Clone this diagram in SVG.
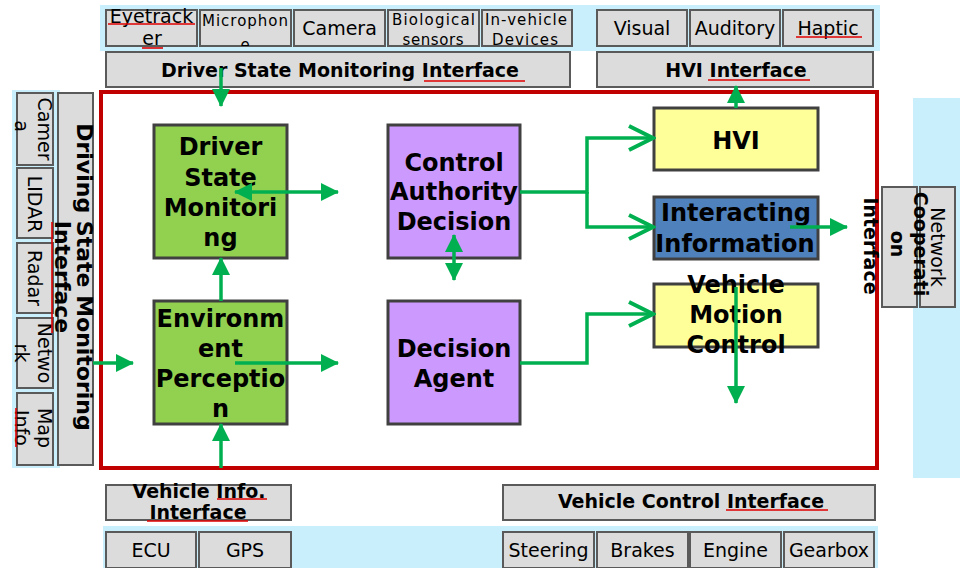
<svg xmlns="http://www.w3.org/2000/svg" width="962" height="568" viewBox="0 0 962 568">
<defs>
<style>
.bg{fill:#c9eefc}
.gbox{fill:#dcdcdc;stroke:#5a5a5a;stroke-width:2}
.t{font-family:"DejaVu Sans",sans-serif;fill:#000;text-anchor:middle}
.s19{font-size:19px}
.s15{font-size:15px}
.b{font-weight:bold}
.n24{font-size:24px;font-weight:bold}
.node{stroke:#404040;stroke-width:3}
.conn{stroke:#00b050;stroke-width:3.5;fill:none}
.sq{stroke:#e00000;stroke-width:1.6;fill:none}
</style>
<marker id="fa" markerUnits="userSpaceOnUse" viewBox="0 0 18 18" refX="17" refY="9" markerWidth="18" markerHeight="18" orient="auto-start-reverse"><path d="M0,0 L18,9 L0,18 Z" fill="#00b050"/></marker>
<marker id="oa" markerUnits="userSpaceOnUse" viewBox="-3 -3 30 32" refX="24" refY="13" markerWidth="30" markerHeight="32" orient="auto"><path d="M0,1 L24,13 L0,25" fill="none" stroke="#00b050" stroke-width="4"/></marker>
<clipPath id="clipMic"><rect x="200" y="10" width="91" height="36"/></clipPath>
<clipPath id="clipBio"><rect x="388" y="10" width="182" height="37"/></clipPath>
</defs>
<rect width="962" height="568" fill="#fff"/>

<!-- background bands -->
<rect class="bg" x="100" y="5" width="780" height="46"/>
<rect class="bg" x="12" y="90" width="48" height="378"/>
<rect class="bg" x="913" y="98" width="47" height="380"/>
<rect class="bg" x="103" y="526" width="775" height="42"/>

<!-- main frame -->
<rect x="101" y="92" width="776" height="376" fill="none" stroke="#c00000" stroke-width="4"/>

<!-- top sensor boxes -->
<g id="eyetracker"><rect class="gbox" x="106" y="10" width="91" height="36"/>
<text class="t s19" x="151.5" y="23">Eyetrack</text><text class="t s19" x="152" y="45">er</text></g>
<g id="microphone"><rect class="gbox" x="200" y="10" width="91" height="36"/>
<g clip-path="url(#clipMic)"><text class="t s15" x="245" y="26" textLength="86" lengthAdjust="spacing">Microphon</text><text class="t s15" x="245" y="50">e</text></g></g>
<g id="camera"><rect class="gbox" x="294" y="10" width="91" height="36"/>
<text class="t s19" x="339.5" y="35">Camera</text></g>
<g id="biological"><rect class="gbox" x="388" y="10" width="91" height="36"/>
<g clip-path="url(#clipBio)"><text class="t s15" x="433.5" y="25" textLength="83" lengthAdjust="spacing">Biological</text><text class="t s15" x="433" y="45" textLength="61" lengthAdjust="spacing">sensors</text></g></g>
<g id="invehicle"><rect class="gbox" x="482" y="10" width="90" height="36"/>
<g clip-path="url(#clipBio)"><text class="t s15" x="526" y="25" textLength="82" lengthAdjust="spacing">In-vehicle</text><text class="t s15" x="525" y="45" textLength="66" lengthAdjust="spacing">Devices</text></g></g>

<g id="visual"><rect class="gbox" x="597" y="10" width="90" height="36"/><text class="t s19" x="642" y="35">Visual</text></g>
<g id="auditory"><rect class="gbox" x="690" y="10" width="90" height="36"/><text class="t s19" x="735" y="35">Auditory</text></g>
<g id="haptic"><rect class="gbox" x="783" y="10" width="90" height="36"/><text class="t s19" x="828" y="35">Haptic</text></g>

<!-- interface boxes -->
<g id="dsm-interface"><rect class="gbox" x="106" y="52" width="464" height="35"/>
<text class="t s19 b" x="340" y="77">Driver State Monitoring Interface</text></g>
<g id="hvi-interface"><rect class="gbox" x="597" y="52" width="276" height="35"/>
<text class="t s19 b" x="736" y="77">HVI Interface</text></g>

<!-- left sensor boxes -->
<g id="l-camera"><rect class="gbox" x="17" y="93" width="36" height="72"/>
<text class="t s19" transform="translate(38,129) rotate(90)">Camer</text><text class="t s19" transform="translate(15,126) rotate(90)">a</text></g>
<g id="l-lidar"><rect class="gbox" x="17" y="168" width="36" height="70"/>
<text class="t s19" transform="translate(28,204) rotate(90)">LIDAR</text></g>
<g id="l-radar"><rect class="gbox" x="17" y="243" width="36" height="70"/>
<text class="t s19" transform="translate(28,278) rotate(90)">Radar</text></g>
<g id="l-network"><rect class="gbox" x="17" y="318" width="36" height="70"/>
<text class="t s19" transform="translate(38,353) rotate(90)">Netwo</text><text class="t s19" transform="translate(15,353) rotate(90)">rk</text></g>
<g id="l-map"><rect class="gbox" x="17" y="393" width="36" height="72"/>
<text class="t s19" transform="translate(38,428) rotate(90)">Map</text><text class="t s19" transform="translate(15,428) rotate(90)">Info</text></g>
<g id="driving-state-interface"><rect class="gbox" x="58" y="93" width="35" height="372"/>
<text class="t s19 b" style="font-size:22px" transform="translate(77,277) rotate(90)">Driving State Monitoring</text>
<text class="t s19 b" style="font-size:22px" transform="translate(55,277) rotate(90)">Interface</text></g>

<!-- right boxes -->
<g id="network"><rect class="gbox" x="920" y="187" width="35" height="120"/>
<text class="t s19" transform="translate(931,247) rotate(90)">Network</text></g>
<g id="cooperation"><rect class="gbox" x="882" y="187" width="35" height="120"/>
<text class="t s19 b" transform="translate(914,244) rotate(90)">Cooperati</text>
<text class="t s19 b" transform="translate(891,244) rotate(90)">on</text>
<text class="t s19 b" transform="translate(864,246) rotate(90)">Interface</text></g>

<!-- bottom -->
<g id="vehicle-info-interface"><rect class="gbox" x="106" y="485" width="185" height="35"/>
<text class="t s19 b" x="199" y="498">Vehicle Info.</text><text class="t s19 b" x="198" y="519">Interface</text></g>
<g id="vehicle-control-interface"><rect class="gbox" x="503" y="485" width="372" height="35"/>
<text class="t s19 b" x="691" y="508">Vehicle Control Interface</text></g>
<g id="ecu"><rect class="gbox" x="106" y="532" width="90" height="36"/><text class="t s19" x="151" y="557">ECU</text></g>
<g id="gps"><rect class="gbox" x="199" y="532" width="92" height="36"/><text class="t s19" x="245" y="557">GPS</text></g>
<g id="steering"><rect class="gbox" x="503" y="532" width="91" height="36"/><text class="t s19" x="548.5" y="557">Steering</text></g>
<g id="brakes"><rect class="gbox" x="597" y="532" width="91" height="36"/><text class="t s19" x="642.5" y="557">Brakes</text></g>
<g id="engine"><rect class="gbox" x="690" y="532" width="91" height="36"/><text class="t s19" x="735.5" y="557">Engine</text></g>
<g id="gearbox"><rect class="gbox" x="784" y="532" width="90" height="36"/><text class="t s19" x="829" y="557">Gearbox</text></g>

<!-- core nodes -->
<g id="driver-state-monitoring"><rect class="node" x="154" y="125" width="133" height="133" fill="#92d050"/>
<text class="t n24" x="220.5" y="155">Driver</text><text class="t n24" x="220.5" y="186">State</text><text class="t n24" x="220.5" y="216">Monitori</text><text class="t n24" x="220.5" y="246">ng</text></g>
<g id="environment-perception"><rect class="node" x="154" y="301" width="133" height="123" fill="#92d050"/>
<text class="t n24" x="220.5" y="327">Environm</text><text class="t n24" x="220.5" y="357">ent</text><text class="t n24" x="220.5" y="387">Perceptio</text><text class="t n24" x="220.5" y="417">n</text></g>
<g id="control-authority-decision"><rect class="node" x="388" y="125" width="132" height="133" fill="#cc99ff"/>
<text class="t n24" x="454" y="171">Control</text><text class="t n24" x="454" y="200">Authority</text><text class="t n24" x="454" y="230">Decision</text></g>
<g id="decision-agent"><rect class="node" x="388" y="301" width="132" height="123" fill="#cc99ff"/>
<text class="t n24" x="454" y="357">Decision</text><text class="t n24" x="454" y="387">Agent</text></g>
<g id="hvi"><rect class="node" x="654" y="108" width="164" height="62" fill="#ffff99"/>
<text class="t n24" x="736" y="149">HVI</text></g>
<g id="interacting-information"><rect class="node" x="654" y="197" width="164" height="62" fill="#4f81bd"/>
<text class="t n24" x="736" y="221">Interacting</text><text class="t n24" x="735" y="252">Information</text></g>
<g id="vehicle-motion-control"><rect class="node" x="654" y="284" width="164" height="63" fill="#ffff99"/>
<text class="t n24" x="736" y="293">Vehicle</text><text class="t n24" x="736" y="323">Motion</text><text class="t n24" x="736" y="353">Control</text></g>

<!-- connectors -->
<g id="connectors" class="conn">
<path d="M221,68 V106" marker-end="url(#fa)"/>
<path d="M221,301 V258" marker-end="url(#fa)"/>
<path d="M221,468 V424" marker-end="url(#fa)"/>
<path d="M93,363 H133" marker-end="url(#fa)"/>
<path d="M235,192 H338" marker-start="url(#fa)" marker-end="url(#fa)"/>
<path d="M235,363 H338" marker-end="url(#fa)"/>
<path d="M454,235 V280" marker-start="url(#fa)" marker-end="url(#fa)"/>
<path d="M520,192 H587 V138 H653" marker-end="url(#oa)"/>
<path d="M587,192 V227 H653" marker-end="url(#oa)"/>
<path d="M520,363 H587 V314 H653" marker-end="url(#oa)"/>
<path d="M736,108 V86" marker-end="url(#fa)"/>
<path d="M790,227 H847" marker-end="url(#fa)"/>
<path d="M736,287 V403" marker-end="url(#fa)"/>
</g>

<!-- spell-check underlines -->
<g class="sq">
<path d="M108,24 H195"/><path d="M142,48 H163"/>
<path d="M424,81 H525"/><path d="M796,37 H862"/><path d="M708,80 H810"/>
<path d="M52,222 V333"/><path d="M16,408 V447"/>
<path d="M217,499 H267"/><path d="M147,521 H248"/><path d="M726,510 H828"/>
</g>
</svg>
